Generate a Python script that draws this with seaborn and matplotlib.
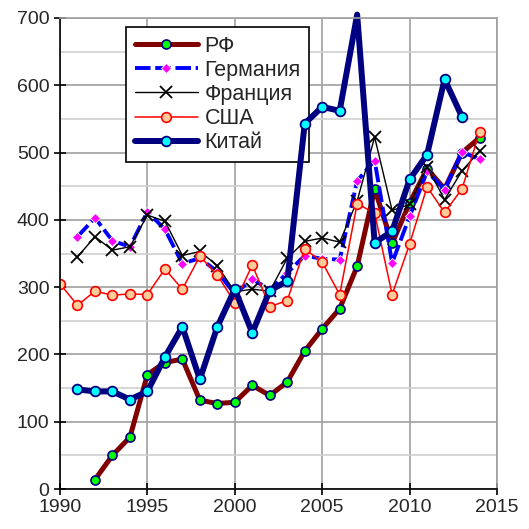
import pandas as pd
import matplotlib
matplotlib.use("Agg")
import matplotlib.pyplot as plt
import seaborn as sns
from matplotlib.ticker import MultipleLocator

# series values
rf_years = list(range(1992, 2015))
rf = [14, 50, 77, 170, 188, 193, 132, 127, 129, 154, 139, 159, 205, 238, 268,
      331, 446, 365, 425, 476, 446, 500, 522]

de_years = list(range(1991, 2015))
germany = [375, 403, 369, 360, 412, 386, 335, 343, 323, 290, 312, 296, 321, 347,
           342, 341, 458, 488, 336, 405, 472, 445, 501, 490]

fr_years = list(range(1991, 2015))
france = [345, 375, 355, 360, 407, 398, 347, 353, 332, 293, 297, 294, 343, 368,
          373, 367, 428, 523, 414, 423, 479, 430, 473, 502]

us_years = list(range(1990, 2015))
usa = [305, 273, 294, 288, 290, 289, 327, 297, 346, 318, 277, 333, 271, 280, 357,
       337, 289, 424, 410, 289, 364, 449, 411, 446, 531]

cn_years = list(range(1991, 2014))
china = [148, 145, 145, 133, 145, 196, 241, 163, 241, 297, 232, 295, 309, 543,
         568, 562, 705, 366, 383, 460, 497, 609, 553]

labels = ["РФ", "Германия", "Франция", "США", "Китай"]

sns.set_style("white")
plt.rcParams['font.family'] = ['Liberation Sans', 'DejaVu Sans']

fig = plt.figure(figsize=(5.29, 5.29), dpi=100)
ax = fig.add_axes([60/529, 1 - 489/529, 437/529, 471/529])

#grid first so the lines sit above it
ax.set_axisbelow(True)
ax.yaxis.set_major_locator(MultipleLocator(100))
ax.yaxis.set_minor_locator(MultipleLocator(50))
ax.xaxis.set_major_locator(MultipleLocator(5))
ax.grid(which='major', axis='both', color='#a0a0a0', lw=1.2)
ax.grid(which='minor', axis='y', color='#d0d0d0', lw=1.2)

sns.lineplot(x=rf_years, y=rf, ax=ax, label=labels[0], color='#800000', lw=3.6,
             marker='o', ms=6.5, mfc='#00ff00', mec='#000080', mew=1.2)
sns.lineplot(x=de_years, y=germany, ax=ax, label=labels[1], color='#0000ff', lw=2.8,
             linestyle=(0, (4, 1.2)), marker='D', ms=5, mfc='#ff00ff', mec='white', mew=0.6)
sns.lineplot(x=fr_years, y=france, ax=ax, label=labels[2], color='black', lw=1.0,
             marker='x', ms=9, mec='black', mew=1.3)
sns.lineplot(x=us_years, y=usa, ax=ax, label=labels[3], color='#ff0000', lw=1.1,
             marker='o', ms=7, mfc='#ffcc99', mec='#ff0000', mew=1.2)
# China peaks above 700 in 2007, marker there is not shown
cn_marks = [i for i, y in enumerate(cn_years) if y != 2007]
sns.lineplot(x=cn_years, y=china, ax=ax, label=labels[4], color='#000080', lw=4.3,
             marker='o', ms=7, mfc='#00ffff', mec='#000080', mew=1.3,
             markevery=cn_marks, clip_on=False)

ax.set_xlim(1990, 2015)
ax.set_ylim(0, 700)
ax.set_xlabel("")
ax.set_ylabel("")

for s in ['left', 'bottom']:
    ax.spines[s].set_color('black')
    ax.spines[s].set_linewidth(1.2)
for s in ['top', 'right']:
    ax.spines[s].set_color('#a0a0a0')
    ax.spines[s].set_linewidth(1.2)

ax.tick_params(which='major', direction='inout', length=8, width=1.2,
               labelsize=14, color='black', left=True, bottom=True)
ax.tick_params(which='minor', length=0)

leg = ax.legend(loc='upper left', bbox_to_anchor=(0.151, 0.981), fontsize=15.5,
                frameon=True, fancybox=False, edgecolor='black', framealpha=1,
                handlelength=2.95, handletextpad=0.3, labelspacing=0.15,
                borderpad=0.4, borderaxespad=0)
leg.get_frame().set_linewidth(1.2)
# the China line runs over the legend box in the original
leg.set_zorder(1)

fig.savefig('out.png', dpi=100)
